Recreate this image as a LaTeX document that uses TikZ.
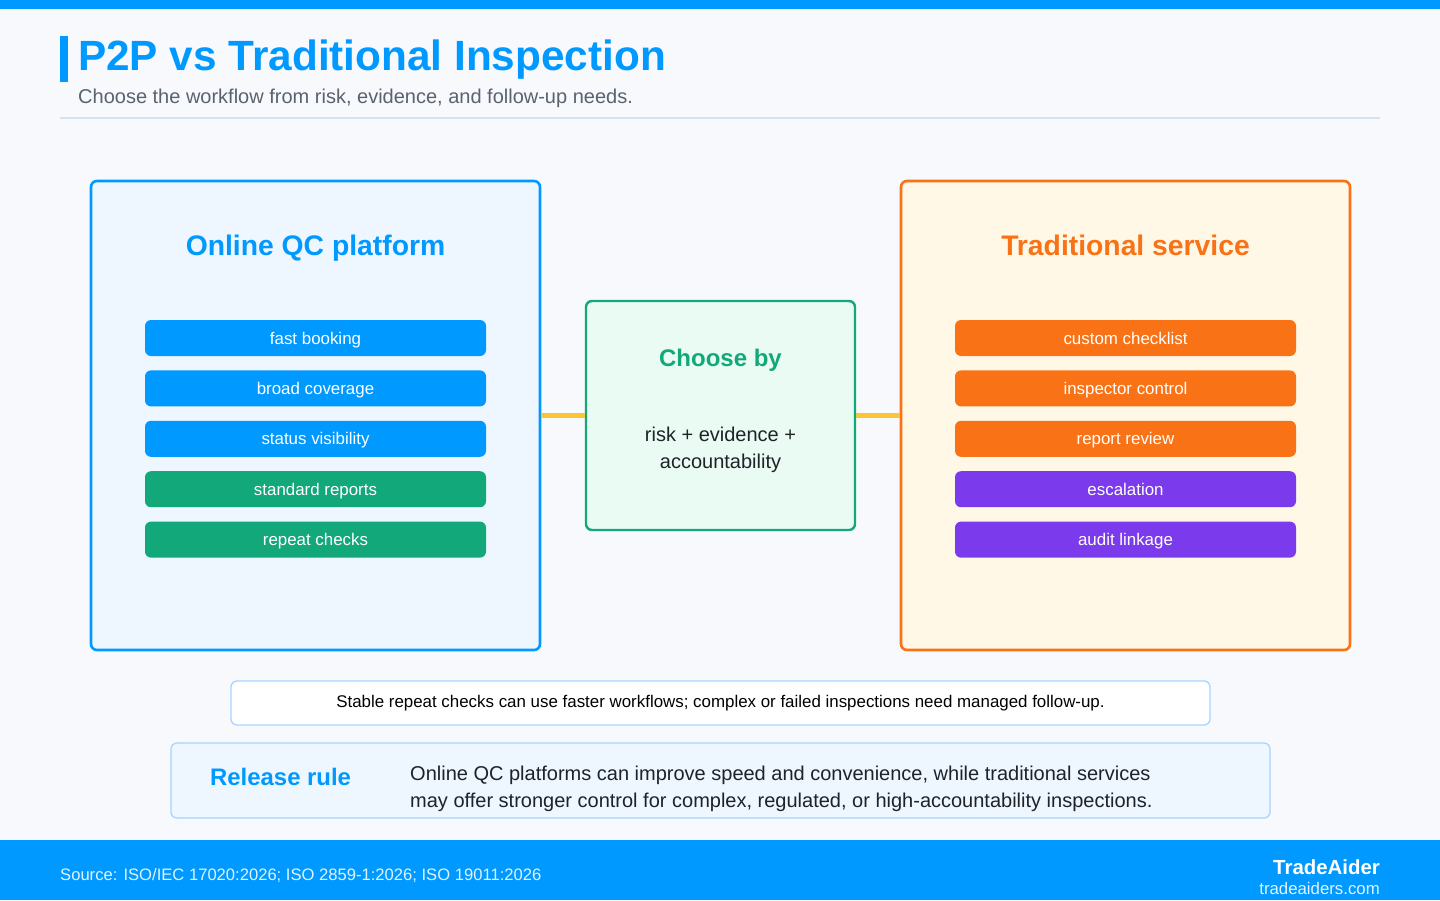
\documentclass[tikz,border=0pt]{standalone}
\usepackage{fontspec}
\setmainfont{Liberation Sans}
\usepackage{xcolor}
\usepackage{tikz}
\usetikzlibrary{positioning,calc}
\definecolor{brandblue}{HTML}{0099FF}
\definecolor{pagebg}{HTML}{F7F9FC}
\definecolor{subgray}{HTML}{5A6270}
\definecolor{ruleline}{HTML}{D3E3F3}
\definecolor{onlinebg}{HTML}{EEF6FF}
\definecolor{tradorange}{HTML}{F97316}
\definecolor{tradbg}{HTML}{FFF8E7}
\definecolor{choosegreen}{HTML}{12A87A}
\definecolor{choosebg}{HTML}{E9FBF3}
\definecolor{escpurple}{HTML}{7C3AED}
\definecolor{linkyellow}{HTML}{FFC52E}
\definecolor{noteborder}{HTML}{A8D4FF}
\definecolor{inkdark}{HTML}{1F2328}
\tikzset{
  panel/.style={rounded corners=6pt,line width=2.6pt,minimum width=449pt,
                minimum height=469pt,inner sep=0pt},
  pill/.style={rounded corners=6pt,minimum width=341pt,minimum height=36pt,
               inner sep=0pt,text=white,text height=14pt,text depth=2pt,
               font=\fontsize{16.9}{19}\selectfont},
  ptitle/.style={anchor=base,inner sep=0pt,font=\fontsize{28.3}{32}\selectfont\bfseries},
  link/.style={line width=5pt,linkyellow},
  notebox/.style={rounded corners=6pt,draw=noteborder,line width=1.3pt,inner sep=0pt},
}
\begin{document}
\begin{tikzpicture}[x=1pt,y=-1pt,node distance=14pt]
  \useasboundingbox (0,0) rectangle (1440,900);
  \fill[pagebg] (0,0) rectangle (1440,900);
  \fill[brandblue] (0,0) rectangle (1440,9);

  % heading
  \fill[brandblue] (60,36) rectangle (68,82);
  \node[anchor=base west,inner sep=0pt,text=brandblue,
        font=\fontsize{42.3}{50}\selectfont\bfseries] (title) at (78,70)
        {P2P vs Traditional Inspection};
  \node[anchor=base west,inner sep=0pt,text=subgray,
        font=\fontsize{20}{24}\selectfont] (subtitle) at (78,103)
        {Choose the workflow from risk, evidence, and follow-up needs.};
  \draw[ruleline,line width=1.5pt] (60,118) -- (1380,118);

  % online side
  \node[panel,draw=brandblue,fill=onlinebg] (online) at (315.5,415.5) {};
  \node[ptitle,text=brandblue] (onlinet) at (315.5,255) {Online QC platform};
  \node[pill,fill=brandblue] (o1) at (315.5,338) {fast booking};
  \node[pill,fill=brandblue,below=of o1] (o2) {broad coverage};
  \node[pill,fill=brandblue,below=of o2] (o3) {status visibility};
  \node[pill,fill=choosegreen,below=of o3] (o4) {standard reports};
  \node[pill,fill=choosegreen,below=of o4] (o5) {repeat checks};

  % traditional side
  \node[panel,draw=tradorange,fill=tradbg] (trad) at (1125.5,415.5) {};
  \node[ptitle,text=tradorange] (tradt) at (1125.5,255) {Traditional service};
  \node[pill,fill=tradorange] (t1) at (1125.5,338) {custom checklist};
  \node[pill,fill=tradorange,below=of t1] (t2) {inspector control};
  \node[pill,fill=tradorange,below=of t2] (t3) {report review};
  \node[pill,fill=escpurple,below=of t3] (t4) {escalation};
  \node[pill,fill=escpurple,below=of t4] (t5) {audit linkage};

  % middle
  \node[rounded corners=6pt,draw=choosegreen,fill=choosebg,line width=2.4pt,
        minimum width=269pt,minimum height=229pt,inner sep=0pt] (choose) at (720.5,415.5) {};
  \node[anchor=base,inner sep=0pt,text=choosegreen,font=\fontsize{24}{28}\selectfont\bfseries]
       (chooset) at (720.5,366) {Choose by};
  \node[text=inkdark,align=center,font=\fontsize{20}{27}\selectfont] (chooseby) at (720.5,450)
       {risk + evidence +\\accountability};
  \draw[link] (online.east) -- (choose.west);
  \draw[link] (choose.east) -- (trad.west);

  % notes
  \node[notebox,fill=white,minimum width=979pt,minimum height=44pt,
        font=\fontsize{16.9}{19}\selectfont,text=black] (note) at (720.5,703)
       {Stable repeat checks can use faster workflows; complex or failed inspections need managed follow-up.};
  \node[notebox,fill=onlinebg,minimum width=1099pt,minimum height=75pt] (release) at (720.5,780.5) {};
  \node[anchor=west,inner sep=0pt,text=brandblue,font=\fontsize{23.9}{28}\selectfont\bfseries]
       (releaset) at (210,777) {Release rule};
  \node[anchor=west,inner sep=0pt,align=left,text=inkdark,font=\fontsize{20}{27}\selectfont]
       (releasetx) at (410,788.5)
       {Online QC platforms can improve speed and convenience, while traditional services\\
        may offer stronger control for complex, regulated, or high-accountability inspections.};

  % footer
  \fill[brandblue] (0,840) rectangle (1440,900);
  \node[anchor=west,inner sep=0pt,text=white!88!brandblue,font=\fontsize{16.6}{19}\selectfont]
       (source) at (60,876) {Source: ISO/IEC 17020:2026; ISO 2859-1:2026; ISO 19011:2026};
  \node[anchor=east,inner sep=0pt,text=white,font=\fontsize{20.4}{24}\selectfont\bfseries]
       (brand) at (1380,867) {TradeAider};
  \node[anchor=east,inner sep=0pt,text=white!88!brandblue,font=\fontsize{16.8}{19}\selectfont]
       (site) at (1380,888) {tradeaiders.com};
\end{tikzpicture}
\end{document}
